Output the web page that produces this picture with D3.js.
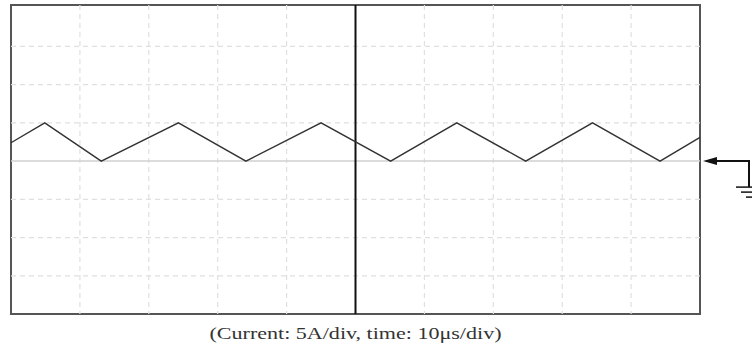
<!DOCTYPE html>
<html>
<head>
<meta charset="utf-8">
<script src="https://cdn.jsdelivr.net/npm/d3@7"></script>
<style>
  body { margin: 0; background: #fff; }
  svg { display: block; }
</style>
</head>
<body>
<div id="chart"></div>
<script>
// Scope trace: time in µs, current in A
const timeUs   = [0, 4.9, 13.1, 24.3, 34.1, 45.0, 55.1, 64.7, 74.7, 84.4, 94.2, 100];
const currentA = [2.4, 5.0, 0, 5.0, 0, 5.0, 0, 5.0, 0, 5.0, 0, 3.1];

// Screen divisions (10 horizontal x 8 vertical)
const timeDivs    = d3.range(0, 101, 10);      // µs
const currentDivs = d3.range(-20, 21, 5);      // A
const caption = "(Current: 5A/div, time: 10\u03bcs/div)";

const width = 752, height = 357;

const svg = d3.select("#chart").append("svg")
    .attr("width", width)
    .attr("height", height);

// scales
const x = d3.scaleLinear().domain([0, 100]).range([11, 700]);
const y = d3.scaleLinear().domain([-20, 20]).range([314, 8.2]);

const frameTop = 5, frameBottom = 314;

// frame
svg.append("rect")
    .attr("x", x(0))
    .attr("y", frameTop)
    .attr("width", x(100) - x(0))
    .attr("height", frameBottom - frameTop)
    .attr("fill", "none")
    .attr("stroke", "#555")
    .attr("stroke-width", 2);

// dashed grid (drawn over the frame so it leaves small notches like the scope)
svg.append("g").selectAll("line")
    .data(timeDivs.filter(d => d > 0 && d < 100 && d !== 50))
    .join("line")
    .attr("x1", d => x(d)).attr("x2", d => x(d))
    .attr("y1", frameTop).attr("y2", frameBottom)
    .attr("stroke", "#e0e0e0")
    .attr("stroke-width", 1.2)
    .attr("stroke-dasharray", "5,4");

svg.append("g").selectAll("line")
    .data(currentDivs.filter(d => d > -20 && d < 20 && d !== 0))
    .join("line")
    .attr("x1", x(0)).attr("x2", x(100))
    .attr("y1", d => y(d)).attr("y2", d => y(d))
    .attr("stroke", "#e0e0e0")
    .attr("stroke-width", 1.2)
    .attr("stroke-dasharray", "5,4");

// zero (ground) line
svg.append("line")
    .attr("x1", x(0)).attr("x2", x(100))
    .attr("y1", y(0)).attr("y2", y(0))
    .attr("stroke", "#d0d0d0")
    .attr("stroke-width", 1.5);

// centre vertical line
svg.append("line")
    .attr("x1", x(50)).attr("x2", x(50))
    .attr("y1", frameTop).attr("y2", frameBottom)
    .attr("stroke", "#111")
    .attr("stroke-width", 2);

// trace
const trace = timeUs.map((t, i) => ({ t: t, a: currentA[i] }));
svg.append("path")
    .datum(trace)
    .attr("fill", "none")
    .attr("stroke", "#333")
    .attr("stroke-width", 1.4)
    .attr("stroke-linejoin", "miter")
    .attr("d", d3.line().x(d => x(d.t)).y(d => y(d.a)));

// ground marker on the right
const gy = y(0);
const gx = 749;
const gnd = svg.append("g").attr("stroke", "#111").attr("fill", "none");
gnd.append("path")
    .attr("d", `M${x(100) + 16},${gy} H${gx} V${gy + 26}`)
    .attr("stroke-width", 2);
svg.append("path")
    .attr("d", `M${x(100) + 3},${gy} L${x(100) + 17},${gy - 4} L${x(100) + 17},${gy + 4} Z`)
    .attr("fill", "#111");
[[13, 0], [8, 5], [3, 10]].forEach(([hw, dy]) => {
    gnd.append("line")
        .attr("x1", gx - hw).attr("x2", gx + hw)
        .attr("y1", gy + 26 + dy).attr("y2", gy + 26 + dy)
        .attr("stroke-width", 1.5);
});

// caption
svg.append("text")
    .attr("x", x(50))
    .attr("y", 339)
    .attr("text-anchor", "middle")
    .attr("font-family", "'Liberation Serif', 'Times New Roman', serif")
    .attr("font-size", 16)
    .attr("fill", "#333")
    .attr("textLength", 292)
    .attr("lengthAdjust", "spacingAndGlyphs")
    .text(caption);
</script>
</body>
</html>
